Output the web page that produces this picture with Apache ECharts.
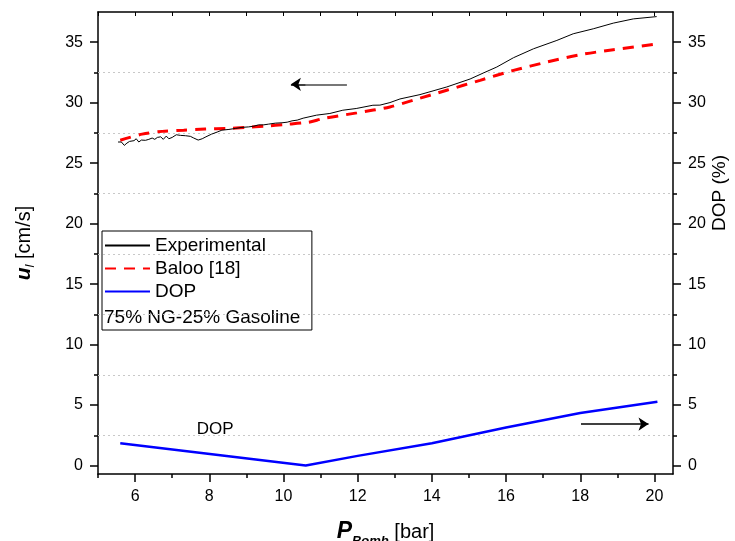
<!DOCTYPE html>
<html>
<head>
<meta charset="utf-8">
<script src="https://cdn.jsdelivr.net/npm/echarts@6/dist/echarts.min.js"></script>
<style>
html,body{margin:0;padding:0;background:#fff;}
#chart{width:735px;height:541px;}
</style>
</head>
<body>
<div id="chart"></div>
<script>
// ---- data ----
var expP = [5.54,5.63,5.71,5.78,5.85,5.90,5.97,6.03,6.10,6.17,6.28,6.37,6.46,6.53,6.60,6.69,6.76,6.84,6.91,7.00,7.11,7.22,7.36,7.49,7.58,7.70,7.81,7.91,8.06,8.21,8.34,8.53,8.70,8.88,9.06,9.20,9.33,9.47,9.60,9.78,9.96,10.10,10.23,10.37,10.53,10.89,11.25,11.60,11.96,12.41,12.60,12.87,13.14,13.68,14.40,15.03,15.39,15.75,16.20,16.74,17.37,17.81,18.35,18.89,19.43,20.06];
var expU = [26.75,26.75,26.47,26.66,26.80,26.64,26.86,27.02,26.75,26.91,26.89,26.97,27.08,26.97,27.13,27.18,26.97,27.24,27.02,27.13,27.35,27.30,27.27,27.22,27.08,26.91,27.02,27.18,27.40,27.57,27.73,27.79,27.87,27.96,28.00,28.06,28.17,28.17,28.23,28.31,28.34,28.39,28.50,28.56,28.72,28.97,29.11,29.38,29.52,29.79,29.80,30.01,30.31,30.67,31.30,31.96,32.46,32.95,33.72,34.46,35.15,35.70,36.11,36.58,36.93,37.12];

var balooP = [5.60,6.19,6.73,7.31,7.89,8.48,8.97,9.51,10.05,10.68,11.08,11.98,12.87,13.50,14.40,15.30,16.20,17.10,18.00,18.89,20.05];
var balooU = [26.90,27.40,27.63,27.73,27.82,27.87,27.96,28.06,28.20,28.39,28.70,29.16,29.65,30.21,31.03,31.85,32.67,33.36,33.97,34.38,34.85];

var dopP = [5.6,10.6,12.0,14.0,16.0,18.0,20.08];
var dopV = [1.85,0.0,0.8,1.85,3.15,4.35,5.27];

var xMajorTicks = [6,8,10,12,14,16,18,20];
var xMinorTicks = [5,7,9,11,13,15,17,19];
var xTopTicks = [5,6,7,8,9,10,11,12,13,14,15,16,17,18,19,20];
var yMajorTicks = [0,5,10,15,20,25,30,35];
var yMinorTicks = [2.5,7.5,12.5,17.5,22.5,27.5,32.5];

var seriesNames = ['Experimental','Baloo [18]','DOP'];
var noteText = '75% NG-25% Gasoline';

// annotation positions in data units
var leftArrowY = 31.52, leftArrowTail = 11.71, leftArrowHeadStart = 10.6, leftArrowHead = 10.2;
var rightArrowY = 3.43, rightArrowTail = 18.02, rightArrowHead = 19.84;
var dopLabelAt = [8.16, 2.97];

function zip(a, b){ return a.map(function(v,i){ return [v, b[i]]; }); }

var FONT = '"Liberation Sans", Arial, sans-serif';
var chart = echarts.init(document.getElementById('chart'), null, {renderer:'canvas'});

var axisLineStyle = {color:'#000', width:1.5};

var option = {
  animation:false,
  backgroundColor:'#fff',
  textStyle:{fontFamily:FONT},
  grid:{left:98, right:62, top:12, bottom:67, containLabel:false, outerBoundsMode:'none'},
  xAxis:[
    {
      type:'value', min:5, max:20.5, position:'bottom',
      axisLine:{show:true, onZero:false, lineStyle:axisLineStyle},
      axisTick:{show:true, customValues:xMajorTicks, length:8, lineStyle:{color:'#000', width:1.5}},
      axisLabel:{show:true, customValues:xMajorTicks, fontSize:16, color:'#000', margin:15, fontFamily:FONT},
      splitLine:{show:false},
      name:'{b|P}{s|Bomb} [bar]',
      nameLocation:'middle', nameGap:42,
      nameTextStyle:{fontSize:20, color:'#000', fontFamily:FONT, lineHeight:32,
        rich:{
          b:{fontSize:23, fontWeight:'bold', fontStyle:'italic', color:'#000', fontFamily:FONT, lineHeight:32},
          s:{fontSize:13, fontWeight:'bold', fontStyle:'italic', color:'#000', fontFamily:FONT, lineHeight:8, verticalAlign:'bottom'}
        }}
    },
    {
      type:'value', min:5, max:20.5, position:'bottom',
      axisLine:{show:false, onZero:false},
      axisTick:{show:true, customValues:xMinorTicks, length:4, lineStyle:{color:'#000', width:1.5}},
      axisLabel:{show:false},
      splitLine:{show:false}
    },
    {
      type:'value', min:5, max:20.5, position:'top',
      axisLine:{show:true, onZero:false, lineStyle:axisLineStyle},
      axisTick:{show:true, inside:true, customValues:xTopTicks, length:4, lineStyle:{color:'#000', width:1}},
      axisLabel:{show:false},
      splitLine:{show:false}
    }
  ],
  yAxis:[
    {
      type:'value', min:-0.7, max:37.5, position:'left',
      axisLine:{show:true, onZero:false, lineStyle:axisLineStyle},
      axisTick:{show:true, customValues:yMajorTicks, length:8, lineStyle:{color:'#000', width:1.5}},
      axisLabel:{show:true, customValues:yMajorTicks, fontSize:16, color:'#000', margin:15, fontFamily:FONT},
      splitLine:{show:false},
      name:'{b|u}{s|l} [cm/s]',
      nameLocation:'middle', nameRotate:90, nameGap:61,
      nameTextStyle:{fontSize:20, color:'#000', fontFamily:FONT, lineHeight:26,
        rich:{
          b:{fontSize:21, fontWeight:'bold', fontStyle:'italic', color:'#000', fontFamily:FONT, lineHeight:26},
          s:{fontSize:13, fontStyle:'italic', color:'#000', fontFamily:FONT, lineHeight:14, verticalAlign:'bottom'}
        }}
    },
    {
      type:'value', min:-0.7, max:37.5, position:'right',
      axisLine:{show:true, onZero:false, lineStyle:axisLineStyle},
      axisTick:{show:true, customValues:yMajorTicks, length:8, lineStyle:{color:'#000', width:1.5}},
      axisLabel:{show:true, customValues:yMajorTicks, fontSize:16, color:'#000', margin:15, fontFamily:FONT},
      splitLine:{show:false},
      name:'DOP (%)',
      nameLocation:'middle', nameRotate:90, nameGap:37, nameMoveOverlap:false,
      nameTextStyle:{fontSize:19, color:'#000', fontFamily:FONT, padding:[0,0,0,100]}
    },
    {
      type:'value', min:-0.7, max:37.5, position:'left',
      axisLine:{show:false, onZero:false},
      axisTick:{show:true, customValues:yMinorTicks, length:4, lineStyle:{color:'#000', width:1.5}},
      axisLabel:{show:false}, splitLine:{show:false}
    },
    {
      type:'value', min:-0.7, max:37.5, position:'right',
      axisLine:{show:false, onZero:false},
      axisTick:{show:true, customValues:yMinorTicks, length:4, lineStyle:{color:'#000', width:1.5}},
      axisLabel:{show:false}, splitLine:{show:false}
    }
  ],
  legend:{
    orient:'vertical', left:102, top:231,
    itemWidth:45, itemHeight:12, itemGap:4,
    padding:[5,46,29,2],
    borderColor:'#000', borderWidth:1,
    itemStyle:{opacity:0},
    textStyle:{fontSize:19, color:'#000', fontFamily:FONT, lineHeight:19},
    data:seriesNames
  },
  graphic:[
    {type:'text', left:104, top:308, style:{text:noteText, fontSize:19, fill:'#000', fontFamily:FONT}}
  ],
  series:[
    {
      name:seriesNames[0], type:'line', xAxisIndex:0, yAxisIndex:0,
      data:zip(expP, expU), showSymbol:false, symbol:'none',
      lineStyle:{color:'#000', width:1}, itemStyle:{color:'#000'}, z:4,
      markLine:{
        silent:true, symbol:'none', animation:false, z:1,
        label:{show:false},
        lineStyle:{color:'#c8c8c8', type:[2,3], width:1},
        data:yMinorTicks.map(function(v){ return {yAxis:v}; })
      }
    },
    {
      name:seriesNames[1], type:'line', xAxisIndex:0, yAxisIndex:0,
      data:zip(balooP, balooU), showSymbol:false, symbol:'none', smooth:0.3,
      lineStyle:{color:'#ff0000', width:3, type:[11,8]}, itemStyle:{color:'#ff0000'}, z:3
    },
    {
      name:seriesNames[2], type:'line', xAxisIndex:0, yAxisIndex:1,
      data:zip(dopP, dopV), showSymbol:false, symbol:'none',
      lineStyle:{color:'#0000ff', width:2.5}, itemStyle:{color:'#0000ff'}, z:3,
      markLine:{
        silent:true, animation:false, label:{show:false},
        data:[
          [{coord:[leftArrowTail, leftArrowY], symbol:'none', lineStyle:{color:'#777', width:2, type:'solid'}},
           {coord:[leftArrowHeadStart, leftArrowY], symbol:'none'}],
          [{coord:[leftArrowHeadStart, leftArrowY], symbol:'none', lineStyle:{color:'#000', width:1.5, type:'solid'}},
           {coord:[leftArrowHead, leftArrowY], symbol:'arrow', symbolSize:10}],
          [{coord:[rightArrowTail, rightArrowY], symbol:'none', lineStyle:{color:'#000', width:1.5, type:'solid'}},
           {coord:[rightArrowHead, rightArrowY], symbol:'arrow', symbolSize:10}]
        ]
      },
      markPoint:{
        silent:true, animation:false, symbol:'circle', symbolSize:0,
        label:{show:true, position:'inside', formatter:'DOP', color:'#000', fontSize:17, fontFamily:FONT},
        data:[{coord:dopLabelAt}]
      }
    }
  ]
};
chart.setOption(option);
</script>
</body>
</html>
